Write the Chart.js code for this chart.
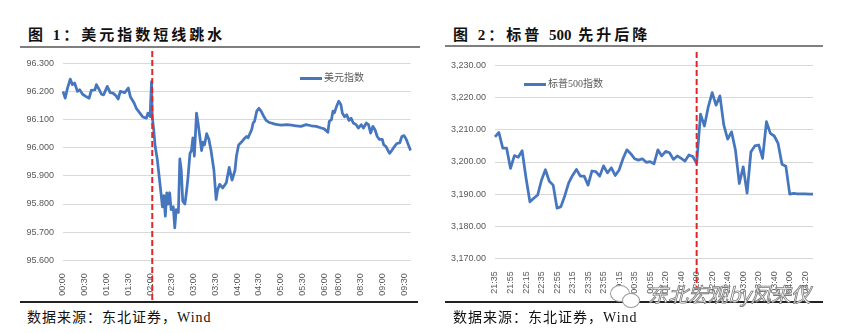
<!DOCTYPE html>
<html>
<head>
<meta charset="utf-8">
<script src="https://cdn.jsdelivr.net/npm/chart.js@4.4.0/dist/chart.umd.min.js"></script>
<style>
  body { margin: 0; width: 843px; height: 333px; background: #fff; position: relative; overflow: hidden;
         font-family: "Liberation Serif", "Noto Sans CJK SC", serif; }
  .title { position: absolute; top: 23px; font-size: 15px; font-weight: bold; letter-spacing: 3px; color: #111; white-space: nowrap; }
  .title b { letter-spacing: 0; }
  .rule { position: absolute; height: 2px; background: #7f7f7f; }
  .foot { position: absolute; height: 1.5px; background: #222; }
  .src { position: absolute; top: 306px; font-size: 14px; color: #111; white-space: nowrap; letter-spacing: 1px; }
  .box { position: absolute; top: 48px; }
  .lg { position: absolute; font-size: 10px; color: #595959; white-space: nowrap; }
  .lg i { display: inline-block; width: 22px; height: 2.5px; background: #4677be; vertical-align: middle; margin-right: 2px; }
  .wm { position: absolute; left: 648px; top: 279px; font-family: "Noto Sans CJK SC", sans-serif; font-size: 20px;
        color: #fff; -webkit-text-stroke: 0.8px #7a7a7a; white-space: nowrap; font-style: italic; }
  .bub { position: absolute; border: 1.2px solid #9a9a9a; border-radius: 50%; background: #fff; }
</style>
</head>
<body>

<div class="title" style="left:28px">图 1：美元指数短线跳水</div>
<div class="rule" style="left:20px; width:400px; top:46px"></div>
<div class="title" style="left:453px">图 2：标普 <b>500</b> 先升后降</div>
<div class="rule" style="left:445px; width:378px; top:45px"></div>

<canvas id="usd" class="box" style="left:0px" width="420" height="255"></canvas>
<canvas id="spx" class="box" style="left:420px" width="423" height="255"></canvas>

<div class="lg" style="left:300px; top:69px"><i></i>美元指数</div>
<div class="lg" style="left:524px; top:75px"><i></i>标普500指数</div>

<div class="foot" style="left:20px; width:398px; top:301px"></div>
<div class="foot" style="left:445px; width:378px; top:301px"></div>
<div class="src" style="left:27px">数据来源：东北证券，Wind</div>
<div class="src" style="left:453px">数据来源：东北证券，Wind</div>

<div class="bub" style="left:610px; top:285px; width:18px; height:15px"></div>
<div class="bub" style="left:622px; top:293px; width:16px; height:13px"></div>
<div class="wm">东北宏观by凤来仪</div>

<script>
// ---- figure 1: USD index, minute data (sampled) ----
const usdTicks = ['00:00','00:30','01:00','01:30','02:00','02:30','03:00','03:30','04:00',
                  '04:30','05:00','05:30','06:00','08:00','08:30','09:00','09:30'];
const usdTimes = ['00:00','00:03','00:06','00:10','00:13','00:16','00:20','00:23','00:27','00:33',
  '00:36','00:39','00:44','00:46','00:50','00:53','00:56','01:01','01:05','01:09',
  '01:13','01:16','01:19','01:25','01:30','01:33','01:38','01:41','01:46','01:50',
  '01:55','01:57','02:00','02:02','02:03','02:05','02:07','02:10','02:12','02:15',
  '02:17','02:19','02:21','02:23','02:25','02:27','02:29','02:32','02:34','02:36',
  '02:39','02:41','02:43','02:45','02:48','02:50','02:52','02:55','02:57','02:59',
  '03:01','03:04','03:06','03:08','03:11','03:13','03:15','03:18','03:21','03:24',
  '03:28','03:31','03:33','03:36','03:40','03:45','03:49','03:53','03:57','03:59',
  '04:02','04:06','04:09','04:13','04:15','04:17','04:20','04:22','04:24','04:27',
  '04:30','04:33','04:37','04:40','04:44','04:47','04:52','04:56','05:01','05:08',
  '05:15','05:21','05:28','05:35','05:42','05:49','05:56','06:00','06:05','06:07',
  '06:10','06:12','06:14','06:17','08:00','08:03','08:05','08:08','08:11','08:14',
  '08:17','08:20','08:24','08:27','08:31','08:34','08:38','08:41','08:44','08:47',
  '08:50','08:53','08:56','09:00','09:02','09:05','09:08','09:10','09:13','09:17',
  '09:20','09:24','09:27','09:30','09:33','09:36','09:39'];
const usdValues = [96.200,96.176,96.210,96.244,96.224,96.230,96.200,96.206,96.190,96.180,
  96.176,96.204,96.206,96.224,96.206,96.190,96.188,96.218,96.196,96.194,
  96.185,96.173,96.200,96.196,96.212,96.180,96.159,96.140,96.123,96.109,
  96.105,96.123,96.111,96.235,96.110,96.064,96.005,95.958,95.910,95.840,
  95.790,95.830,95.757,95.840,95.800,95.840,95.780,95.790,95.715,95.780,
  95.770,95.960,95.920,95.810,95.800,95.840,95.887,95.980,95.990,96.035,
  95.970,96.123,96.090,96.050,95.990,96.020,96.010,96.050,96.030,95.990,
  95.920,95.816,95.850,95.870,95.857,95.875,95.930,95.885,95.920,95.970,
  96.010,96.020,96.030,96.040,96.035,96.047,96.064,96.088,96.094,96.130,
  96.140,96.130,96.110,96.097,96.090,96.088,96.084,96.082,96.080,96.082,
  96.080,96.078,96.076,96.082,96.078,96.076,96.070,96.067,96.055,96.094,
  96.100,96.130,96.124,96.147,96.165,96.153,96.123,96.110,96.117,96.097,
  96.105,96.088,96.082,96.070,96.082,96.070,96.088,96.082,96.052,96.076,
  96.064,96.040,96.030,96.030,96.010,96.005,95.990,95.980,95.990,96.005,
  96.015,96.017,96.040,96.043,96.030,96.010,95.990];
const usdBreak = '02:03';

// ---- figure 2: S&P 500, 5-minute data ----
const spxTimes = ['21:35','21:40','21:45','21:50','21:55','22:00','22:05','22:10','22:15','22:20',
  '22:25','22:30','22:35','22:40','22:45','22:50','22:55','23:00','23:05','23:10',
  '23:15','23:20','23:25','23:30','23:35','23:40','23:45','23:50','23:55','00:00',
  '00:05','00:10','00:15','00:20','00:25','00:30','00:35','00:40','00:45','00:50',
  '00:55','01:05','01:10','01:15','01:20','01:25','01:30','01:35','01:40','01:45',
  '01:50','01:55','02:00','02:05','02:10','02:15','02:20','02:25','02:30','02:35',
  '02:40','02:45','02:50','02:55','03:00','03:05','03:10','03:15','03:20','03:25',
  '03:30','03:35','03:40','03:45','03:50','03:55','04:00','04:05','04:10','04:15',
  '04:20','04:25','04:30'];
const spxValues = [3207.8,3209.2,3204.3,3204.3,3198.0,3202.0,3201.5,3203.5,3195.0,3187.6,
  3188.7,3189.7,3194.4,3197.6,3194.0,3192.8,3185.6,3186.1,3189.5,3193.5,
  3195.8,3197.7,3195.6,3195.6,3192.8,3197.2,3197.0,3195.6,3198.8,3196.6,
  3198.2,3195.8,3197.5,3201.0,3203.8,3202.6,3201.0,3200.6,3201.0,3199.9,
  3200.1,3199.4,3203.8,3201.9,3203.3,3202.9,3200.8,3201.9,3201.1,3200.3,
  3202.2,3201.7,3199.6,3214.9,3211.2,3217.2,3221.6,3217.7,3220.6,3211.5,
  3207.1,3209.4,3203.7,3193.3,3198.5,3190.3,3203.2,3205.0,3205.3,3201.1,
  3212.6,3208.9,3208.1,3205.8,3199.3,3198.7,3190.0,3190.2,3190.1,3190.1,
  3190.1,3190.0,3190.0];
const spxTicks = ['21:35','21:55','22:15','22:35','22:55','23:15','23:35','23:55','00:15','00:35',
  '00:55','01:20','01:40','02:00','02:20','02:40','03:00','03:20','03:40','04:00','04:20'];
const spxBreak = '02:00';

// category axis for fig 1: every minute of the two sessions
function minuteLabels(from, to) {
  const out = [];
  for (let m = from; m <= to; m++) {
    out.push(String(Math.floor(m / 60)).padStart(2, '0') + ':' + String(m % 60).padStart(2, '0'));
  }
  return out;
}
const usdCategories = minuteLabels(0, 379).concat(minuteLabels(480, 579));

const blue = '#4677be';
const tickFont = { family: 'Liberation Sans', size: 9 };

// red dashed marker
const breakLine = {
  id: 'breakLine',
  afterDraw(chart, args, opts) {
    const x = chart.scales.x.getPixelForValue(chart.data.labels.indexOf(opts.value));
    const ctx = chart.ctx;
    ctx.save();
    ctx.strokeStyle = '#e0262b';
    ctx.lineWidth = 2;
    ctx.setLineDash([6, 3]);
    ctx.beginPath();
    ctx.moveTo(x, opts.top);
    ctx.lineTo(x, opts.bottom);
    ctx.stroke();
    ctx.restore();
  }
};

function makeChart(id, labels, series, name, ticks, yOpts, sizes, marker) {
  return new Chart(document.getElementById(id), {
    type: 'line',
    data: {
      labels: labels,
      datasets: [{
        label: name,
        data: series,
        borderColor: blue,
        borderWidth: 2.75,
        pointRadius: 0,
        tension: 0,
        borderJoinStyle: 'round'
      }]
    },
    options: {
      responsive: false,
      animation: false,
      layout: { padding: { top: sizes.top, right: sizes.right } },
      plugins: {
        legend: { display: false },
        tooltip: { enabled: false },
        breakLine: marker
      },
      scales: {
        x: {
          type: 'category',
          offset: false,
          grid: { display: false },
          border: { display: false },
          ticks: { autoSkip: false, minRotation: 90, maxRotation: 90, padding: 5, color: '#595959', font: tickFont },
          afterBuildTicks: s => { s.ticks = s.ticks.filter(t => ticks.includes(labels[t.value])); },
          afterFit: s => { s.height = sizes.xh; }
        },
        y: Object.assign({
          grid: { color: '#d9d9d9', lineWidth: 1, drawTicks: false },
          border: { display: false },
          afterFit: s => { s.width = sizes.yw; }
        }, yOpts)
      }
    },
    plugins: [breakLine]
  });
}

makeChart('usd', usdCategories,
  usdTimes.map((t, i) => ({ x: t, y: usdValues[i] })),
  '美元指数', usdTicks,
  { min: 95.6, max: 96.3,
    ticks: { stepSize: 0.1, padding: 9, color: '#595959', font: tickFont, callback: v => v.toFixed(3) } },
  { top: 15.3, right: 8, xh: 42.7, yw: 63 },
  { value: usdBreak, top: 3, bottom: 254 });

makeChart('spx', spxTimes, spxValues, '标普500指数', spxTicks,
  { min: 3170, max: 3230,
    ticks: { stepSize: 10, padding: 9, color: '#595959', font: tickFont,
             callback: v => String(v).replace(/\B(?=(\d{3})+(?!\d))/g, ',') + '.00' } },
  { top: 17.7, right: 30, xh: 44.7, yw: 75 },
  { value: spxBreak, top: 4, bottom: 240 });
</script>
</body>
</html>
